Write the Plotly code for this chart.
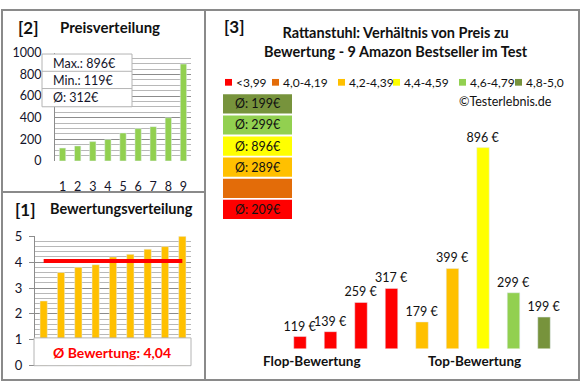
import plotly.graph_objects as go

W, H = 580, 390
def px(x): return x / W
def py(y): return 1 - y / H

FONT = "Lato"
TXT = "#14142a"

# ---------------- data ----------------
# right chart (products in display order)
prices = [119, 139, 259, 317, 179, 399, 896, 299, 199]
rating_class = [0, 0, 0, 0, 2, 2, 3, 4, 5]          # index into classes
class_labels = ["<3,99", "4,0-4,19", "4,2-4,39", "4,4-4,59", "4,6-4,79", "4,8-5,0"]
class_colors = ["#FF0000", "#E36C09", "#FFC000", "#FFFF00", "#92D050", "#77933C"]

# rating distribution
ratings = [2.5, 3.6, 3.8, 3.9, 4.2, 4.3, 4.5, 4.6, 5.0]
rank = [1, 2, 3, 4, 5, 6, 7, 8, 9]

# price distribution (sorted prices)
price_sorted = sorted(prices)

def r0(v): return int(v + 0.5)

fig = go.Figure()

# ---------- [2] Preisverteilung ----------
fig.add_trace(go.Bar(x=rank, y=price_sorted, marker_color="#92D050", width=0.42,
                     xaxis="x", yaxis="y", showlegend=False, hoverinfo="skip"))

# ---------- [1] Bewertungsverteilung ----------
fig.add_trace(go.Bar(x=rank, y=ratings, marker_color="#FFC000", width=0.42,
                     xaxis="x2", yaxis="y2", showlegend=False, hoverinfo="skip"))
mean_r = sum(ratings) / len(ratings)
fig.add_trace(go.Scatter(x=[rank[0], rank[-1]], y=[mean_r, mean_r], mode="lines",
                         line=dict(color="#FF0000", width=4), xaxis="x2", yaxis="y2",
                         showlegend=False, hoverinfo="skip"))

# ---------- [3] Preis zu Bewertung ----------
idx = list(range(len(prices)))
fig.add_trace(go.Bar(x=idx, y=prices, marker_color=[class_colors[c] for c in rating_class],
                     width=0.41, text=[f"{p} €" for p in prices], textposition="outside",
                     constraintext="none",
                     textfont=dict(size=12.5, color="#111", family=FONT), cliponaxis=False,
                     xaxis="x3", yaxis="y3", showlegend=False, hoverinfo="skip"))

shapes = []
ann = []

# frame
border = "#8a8a8a"
shapes.append(dict(type="rect", xref="paper", yref="paper", x0=px(2), x1=px(579), y0=py(388), y1=py(2),
                   line=dict(color=border, width=2)))
shapes.append(dict(type="line", xref="paper", yref="paper", x0=px(205), x1=px(205), y0=py(388), y1=py(2),
                   line=dict(color=border, width=2)))
shapes.append(dict(type="line", xref="paper", yref="paper", x0=px(2), x1=px(205), y0=py(192), y1=py(192),
                   line=dict(color=border, width=2)))

# titles
ann.append(dict(text="<b>[2]</b>", x=px(16), y=py(20), xanchor="left", yanchor="middle",
                font=dict(size=17, color="#111", family=FONT)))
ann.append(dict(text="<b>Preisverteilung</b>", x=px(58), y=py(20), xanchor="left", yanchor="middle",
                font=dict(size=15, color="#111", family=FONT)))
ann.append(dict(text="<b>[1]</b>", x=px(13), y=py(210), xanchor="left", yanchor="middle",
                font=dict(size=17, color="#111", family=FONT)))
ann.append(dict(text="<b>Bewertungsverteilung</b>", x=px(48), y=py(209), xanchor="left", yanchor="middle",
                font=dict(size=14.5, color="#111", family=FONT)))
ann.append(dict(text="<b>[3]</b>", x=px(222), y=py(19), xanchor="left", yanchor="middle",
                font=dict(size=17, color="#111", family=FONT)))
ann.append(dict(text="<b>Rattanstuhl: Verhältnis von Preis zu<br>Bewertung - 9 Amazon Bestseller im Test</b>",
                x=px(396), y=py(35), xanchor="center", yanchor="middle", align="center",
                font=dict(size=14.5, color="#111", family=FONT)))

# info box price
shapes.append(dict(type="rect", xref="paper", yref="paper", x0=px(42), x1=px(132), y0=py(103), y1=py(48),
                   fillcolor="white", line=dict(color="#b4b4b4", width=1), layer="above"))
for yy in (66, 84):
    shapes.append(dict(type="line", xref="paper", yref="paper", x0=px(42), x1=px(132), y0=py(yy), y1=py(yy),
                       line=dict(color="#b4b4b4", width=1), layer="above"))
info = [f"Max.: {max(prices)}€", f"Min.: {min(prices)}€", f"Ø: {r0(sum(prices)/len(prices))}€"]
for t, yy in zip(info, (58, 76, 93)):
    ann.append(dict(text=t, x=px(51), y=py(yy), xanchor="left", yanchor="middle",
                    font=dict(size=12.5, color=TXT, family=FONT)))

# rating mean box
shapes.append(dict(type="rect", xref="paper", yref="paper", x0=px(34), x1=px(191), y0=py(373), y1=py(344),
                   fillcolor="white", line=dict(color="#b4b4b4", width=1), layer="above"))
ann.append(dict(text="<b>Ø Bewertung: " + f"{mean_r:.2f}".replace(".", ",") + "</b>", x=px(112), y=py(359),
                xanchor="center", yanchor="middle", font=dict(size=14, color="#FF0000", family=FONT)))

# legend of classes
leg_x = [225, 272, 338, 393, 459, 515]
for lab, col, lx in zip(class_labels, class_colors, leg_x):
    shapes.append(dict(type="rect", xref="paper", yref="paper", x0=px(lx), x1=px(lx + 7), y0=py(81), y1=py(74),
                       fillcolor=col, line=dict(width=0)))
    ann.append(dict(text=lab, x=px(lx + 9), y=py(77.5), xanchor="left", yanchor="middle",
                    font=dict(size=12, color="#111", family=FONT)))

ann.append(dict(text="©Testerlebnis.de", x=px(554), y=py(98), xanchor="right", yanchor="middle",
                font=dict(size=12.5, color="#111", family=FONT)))

# average boxes per class (top: best class)
box_top = 90
for k in reversed(range(len(class_labels))):
    members = [p for p, c in zip(prices, rating_class) if c == k]
    row = len(class_labels) - 1 - k
    y0 = box_top + row * 22
    shapes.append(dict(type="rect", xref="paper", yref="paper", x0=px(223), x1=px(292), y0=py(y0 + 20), y1=py(y0),
                       fillcolor=class_colors[k], line=dict(width=0)))
    if members:
        ann.append(dict(text=f"Ø: {r0(sum(members)/len(members))}€", x=px(233), y=py(y0 + 10),
                        xanchor="left", yanchor="middle", font=dict(size=12.5, color="#111", family=FONT)))

ann.append(dict(text="<b>Flop-Bewertung</b>", x=px(312), y=py(368), xanchor="center", yanchor="middle",
                font=dict(size=13.5, color="#111", family=FONT)))
ann.append(dict(text="<b>Top-Bewertung</b>", x=px(474), y=py(368), xanchor="center", yanchor="middle",
                font=dict(size=13.5, color="#111", family=FONT)))

for a in ann:
    a.update(xref="paper", yref="paper", showarrow=False)

fig.update_layout(
    width=W, height=H, margin=dict(l=0, r=0, t=0, b=0),
    paper_bgcolor="white", plot_bgcolor="white", bargap=0.6,
    font=dict(family=FONT, color=TXT),
    shapes=shapes, annotations=ann,
    xaxis=dict(domain=[px(55), px(191)], range=[0.5, 9.5], tickvals=rank, showgrid=False,
               zeroline=False, ticks="outside", ticklen=14, tickcolor="rgba(0,0,0,0)",
               tickfont=dict(size=12.5, color=TXT), fixedrange=True, anchor="y"),
    yaxis=dict(domain=[py(159.5), py(46.7)], range=[0, 1000], dtick=200, showgrid=True,
               gridcolor="#8c8c8c", gridwidth=1, zeroline=False, showline=True, linecolor="#8c8c8c",
               minor=dict(dtick=50, showgrid=True, gridcolor="#b8b8b8", gridwidth=1),
               ticks="outside", ticklen=10, tickcolor="rgba(0,0,0,0)",
               tickfont=dict(size=12.5, color=TXT), anchor="x"),
    xaxis2=dict(domain=[px(35), px(191)], range=[0.5, 9.5], showticklabels=False, showgrid=False,
                zeroline=False, anchor="y2"),
    yaxis2=dict(domain=[py(373), py(238)], range=[0, 5], dtick=1, showgrid=True,
                gridcolor="#8c8c8c", gridwidth=1, zeroline=False, showline=True, linecolor="#8c8c8c",
                minor=dict(dtick=0.2, showgrid=True, gridcolor="#b8b8b8", gridwidth=1),
                ticks="outside", ticklen=5, tickcolor="#8c8c8c", ticklabelstandoff=4,
                tickfont=dict(size=13, color=TXT), anchor="x2"),
    xaxis3=dict(domain=[px(284.75), px(559.25)], range=[-0.5, 8.5], visible=False, anchor="y3"),
    yaxis3=dict(domain=[py(355), py(119.2)], range=[70, 1000], visible=False, anchor="x3"),
)

fig.write_html("out.html", config={"staticPlot": True},
               post_script="document.body.style.margin='0';document.body.style.overflow='hidden';")
